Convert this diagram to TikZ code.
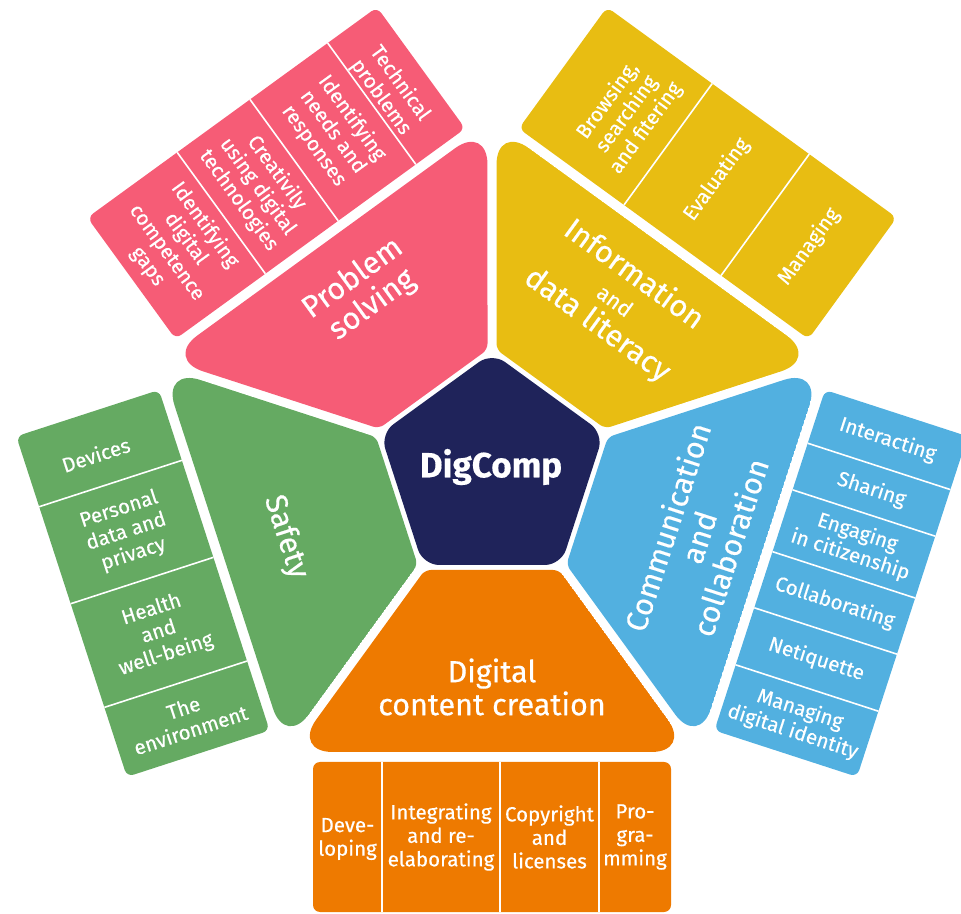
\documentclass[tikz,border=0pt]{standalone}
\usepackage{fontspec}
\setmainfont{Fira Sans}[FakeBold=0.4]
\definecolor{dcred}{HTML}{F65C76}
\definecolor{dcyellow}{HTML}{E8BD12}
\definecolor{dcgreen}{HTML}{65AA62}
\definecolor{dcblue}{HTML}{52B0E0}
\definecolor{dcorange}{HTML}{EE7A00}
\definecolor{dcnavy}{HTML}{1F235A}
\tikzset{
  item/.style={text=white, align=center, inner sep=0pt, font=\fontsize{20.5}{23.5}\selectfont},
  head/.style={text=white, align=center, inner sep=0pt, font=\fontsize{30.5}{33}\selectfont},
  divider/.style={white, line width=1.6pt},
}
% one petal (trapezoid, big outer rounding, small inner rounding) plus its item box,
% drawn in a frame where the petal points straight down
\newcommand\dcpetal[1]{%
  \begin{scope}
    \clip[rounded corners=40pt] (0,-7.65) -- (199.3,-282) -- (-199.3,-282) -- cycle;
    \fill[#1, rounded corners=6pt] (-67.1,-100) -- (67.1,-100) -- (199.3,-282) -- (-199.3,-282) -- cycle;
  \end{scope}
  \fill[#1, rounded corners=7pt] (-179,-292) rectangle (179,-442);
}
\newcommand\dcdividers[1]{\foreach \p in {#1} {\draw[divider] (\p,-292) -- (\p,-442);}}

\begin{document}
\begin{tikzpicture}[x=1pt,y=1pt]
\useasboundingbox (0,0) rectangle (961,913);
\clip (0,0) rectangle (961,913);
\coordinate (C) at (492,443);

% Digital content creation
\begin{scope}[shift={(C)}]
  \dcpetal{dcorange}
  \dcdividers{-110,8,107}
  \node[head] (t5) at (0,-217) {Digital\\content creation};
  \node[item] (o1) at (-144.5,-369) {Deve-\\loping};
  \node[item] (o2) at (-51,-367) {Integrating\\and re-\\elaborating};
  \node[item] (o3) at (57.5,-367) {Copyright\\and\\licenses};
  \node[item] (o4) at (143,-367) {Pro-\\gra-\\mming};
\end{scope}

% Safety
\begin{scope}[shift={(C)}, rotate=-72]
  \dcpetal{dcgreen}
  \dcdividers{-105,-3,106}
  \node[head, rotate=-72] (t4) at (0,-217) {Safety};
  \node[item, rotate=18] (g1) at (-137,-372) {Devices};
  \node[item, rotate=18] (g2) at (-54,-367) {Personal\\data and\\privacy};
  \node[item, rotate=18] (g3) at (51.5,-367) {Health\\and\\well-being};
  \node[item, rotate=18] (g4) at (142.5,-367) {The\\environment};
\end{scope}

% Communication and collaboration
\begin{scope}[shift={(C)}, rotate=72]
  \dcpetal{dcblue}
  \dcdividers{-110,-50,9,74,123}
  \node[head, rotate=72] (t3) at (0,-217) {Communication\\and\\collaboration};
  \node[item, rotate=-18] (b6) at (-144.5,-367) {Managing\\digital identity};
  \node[item, rotate=-18] (b5) at (-80,-367) {Netiquette};
  \node[item, rotate=-18] (b4) at (-20.5,-367) {Collaborating};
  \node[item, rotate=-18] (b3) at (41.5,-367) {Engaging\\in citizenship};
  \node[item, rotate=-18] (b2) at (98.5,-367) {Sharing};
  \node[item, rotate=-18] (b1) at (151,-367) {Interacting};
\end{scope}

% Problem solving
\begin{scope}[shift={(C)}, rotate=-144]
  \dcpetal{dcred}
  \dcdividers{-118,-22,68}
  \node[head, rotate=36] (t1) at (0,-220) {Problem\\solving};
  \node[item, rotate=-54] (r4) at (-141,-367) {Technical\\problems};
  \node[item, rotate=-54] (r3) at (-70,-367) {Identifying\\needs and\\responses};
  \node[item, rotate=-54] (r2) at (23,-367) {Creativily\\using digital\\technologies};
  \node[item, rotate=-54] (r1) at (123.5,-367) {Identifying\\digital\\competence\\gaps};
\end{scope}

% Information and data literacy
\begin{scope}[shift={(C)}, rotate=144]
  \dcpetal{dcyellow}
  \dcdividers{-71,49}
  \node[head, rotate=-36, font=\fontsize{30.5}{31}\selectfont] (t2) at (0,-210)
    {Information\\{\fontsize{22}{31}\selectfont and}\\data literacy};
  \node[item, rotate=54] (y3) at (-125,-367) {Managing};
  \node[item, rotate=54] (y2) at (-11,-367) {Evaluating};
  \node[item, rotate=54] (y1) at (100,-367) {Browsing,\\searching\\and fitering};
\end{scope}

% central pentagon
\begin{scope}[shift={(C)}]
  \fill[dcnavy, rounded corners=16pt] (90:117.4) -- (162:117.4) -- (234:117.4) -- (306:117.4) -- (18:117.4) -- cycle;
\end{scope}
\node[text=white, font=\bfseries\fontsize{35}{35}\selectfont] (dc) at (491,446) {DigComp};
\end{tikzpicture}
\end{document}
